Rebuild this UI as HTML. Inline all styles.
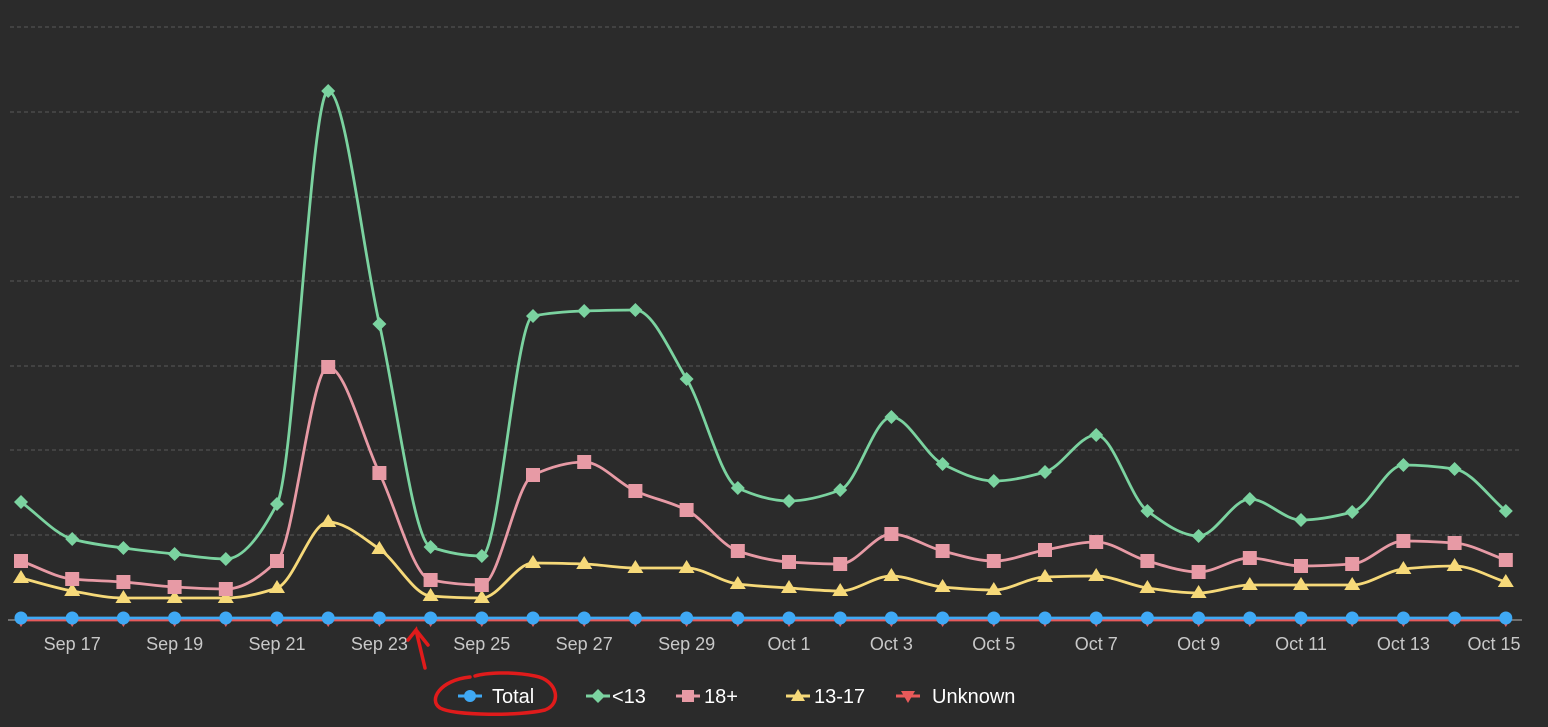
<!DOCTYPE html><html><head><style>body{margin:0;background:#2b2b2b;}svg{display:block}text{font-family:"Liberation Sans",sans-serif}</style></head><body>
<svg id="s" width="1548" height="727" xmlns="http://www.w3.org/2000/svg">
<rect width="1548" height="727" fill="#2b2b2b"/>
<g stroke="#5a5a5a" stroke-dasharray="4,3" stroke-width="1">
<line x1="10" x2="1522" y1="27" y2="27"/><line x1="10" x2="1522" y1="112" y2="112"/><line x1="10" x2="1522" y1="197" y2="197"/><line x1="10" x2="1522" y1="281" y2="281"/><line x1="10" x2="1522" y1="366" y2="366"/><line x1="10" x2="1522" y1="450" y2="450"/><line x1="10" x2="1522" y1="535" y2="535"/>
</g>
<line x1="8" x2="1522" y1="620" y2="620" stroke="#888" stroke-width="1.5"/>
<g id="lab" fill="#c8c8c8" font-size="18" text-anchor="middle"></g>
<g id="ser"></g>
<g font-size="20" fill="#fff">
<line x1="458" x2="482" y1="696" y2="696" stroke="#3fa9f5" stroke-width="3"/><circle cx="470" cy="696" r="6" fill="#3fa9f5"/><text x="492" y="703">Total</text>
<line x1="586" x2="610" y1="696" y2="696" stroke="#7bd3a0" stroke-width="3"/><path d="M598 689l7 7-7 7-7-7z" fill="#7bd3a0"/><text x="612" y="703">&lt;13</text>
<line x1="676" x2="700" y1="696" y2="696" stroke="#e79aa5" stroke-width="3"/><rect x="682" y="690" width="12" height="12" fill="#e79aa5"/><text x="704" y="703">18+</text>
<line x1="786" x2="810" y1="696" y2="696" stroke="#f6d979" stroke-width="3"/><path d="M798 689l7 12h-14z" fill="#f6d979"/><text x="814" y="703">13-17</text>
<line x1="896" x2="920" y1="696" y2="696" stroke="#e85a5a" stroke-width="3"/><path d="M908 703l7-12h-14z" fill="#e85a5a"/><text x="932" y="703">Unknown</text>
</g>
<g fill="none" stroke="#e01b1b" stroke-width="3.5" stroke-linecap="round">
<path d="M470 677 C440 680 428 700 440 708 C455 716 520 716 545 710 C562 704 558 680 535 676 C510 671 485 673 475 676"/>
<path d="M425 668 L416 630 L408 640 M416 630 L428 645"/>
</g>
</svg>
<script>
var S=51.2,X=i=>21+i*S;
var lab=document.getElementById('lab'),ser=document.getElementById('ser');
var names=['Sep 17','Sep 19','Sep 21','Sep 23','Sep 25','Sep 27','Sep 29','Oct 1','Oct 3','Oct 5','Oct 7','Oct 9','Oct 11','Oct 13','Oct 15'];
var h='';names.forEach((n,k)=>{var x=X(1+2*k);if(k==14)x=1494;h+='<text x="'+x+'" y="650">'+n+'</text>'});lab.innerHTML=h;
var G=[502,539,548,554,559,504,91,324,547,556,316,311,310,379,488,501,490,417,464,481,472,435,511,536,499,520,512,465,469,511];
var P=[561,579,582,587,589,561,367,473,580,585,475,462,491,510,551,562,564,534,551,561,550,542,561,572,558,566,564,541,543,560];
var Y=[578,591,598,598,598,588,522,549,596,598,563,564,568,568,584,588,591,576,587,590,577,576,588,593,585,585,585,569,566,582];
var B=G.map(()=>618);
function path(a){var n=a.length,d=[],m=[];for(var i=0;i<n-1;i++)d.push((a[i+1]-a[i]));
for(var i=0;i<n;i++){if(i==0)m.push(d[0]);else if(i==n-1)m.push(d[n-2]);else{var p=d[i-1],q=d[i];if(p*q<=0)m.push(0);else m.push(2/(1/p+1/q));}}
var s='M'+X(0)+' '+a[0];for(var i=0;i<n-1;i++){s+=' C'+(X(i)+S/3)+' '+(a[i]+m[i]/3)+' '+(X(i+1)-S/3)+' '+(a[i+1]-m[i+1]/3)+' '+X(i+1)+' '+a[i+1];}return s}
var o='';
function line(a,c){o+='<path d="'+path(a)+'" fill="none" stroke="'+c+'" stroke-width="2.8"/>'}
line(B.map(()=>620),'#e85a5a');line(Y,'#f6d979');line(P,'#e79aa5');line(G,'#7bd3a0');line(B,'#3fa9f5');
Y.forEach((v,i)=>o+='<path d="M'+X(i)+' '+(v-8)+'l8 13h-16z" fill="#f6d979"/>');
P.forEach((v,i)=>o+='<rect x="'+(X(i)-7)+'" y="'+(v-7)+'" width="14" height="14" fill="#e79aa5"/>');
G.forEach((v,i)=>o+='<path d="M'+X(i)+' '+(v-7)+'l7 7-7 7-7-7z" fill="#7bd3a0"/>');
B.forEach((v,i)=>o+='<path d="M'+X(i)+' '+(v+9)+'l3-5h-6z" fill="#e85a5a"/><circle cx="'+X(i)+'" cy="'+v+'" r="6.5" fill="#3fa9f5"/>');
ser.innerHTML=o;
</script>
</body></html>
